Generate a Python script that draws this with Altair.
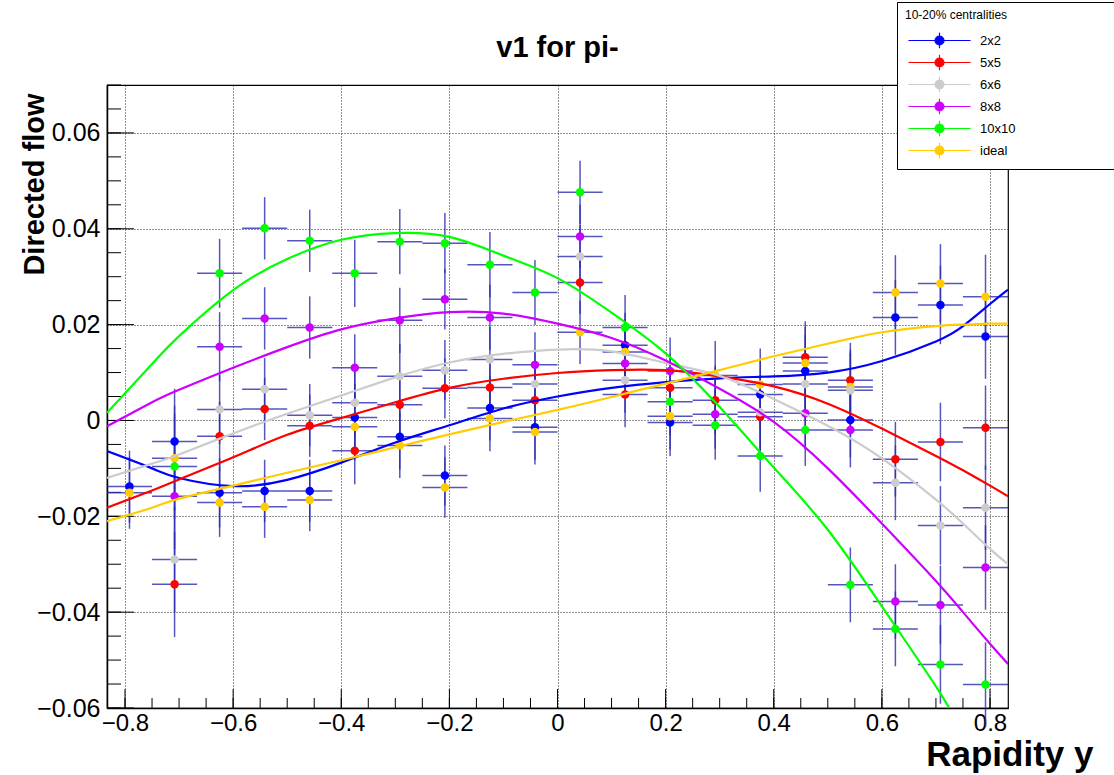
import altair as alt
import pandas as pd

# ---------------- data ----------------
chart_title = "v1 for pi-"
series_names = ["2x2", "5x5", "6x6", "8x8", "10x10", "ideal"]
series_colors = ["#0000ff", "#ff0000", "#cccccc", "#cc00ff", "#00ff00", "#ffcc00"]
draw_order = ["2x2", "5x5", "ideal", "6x6", "8x8", "10x10"]

rapidity_bins = [-0.7917, -0.7083, -0.6250, -0.5417, -0.4583, -0.3750, -0.2917, -0.2083, -0.1250, -0.0417,
                 0.0417, 0.1250, 0.2083, 0.2917, 0.3750, 0.4583, 0.5417, 0.6250, 0.7083, 0.7917]
bin_half_width = 0.0417

v1_2x2 = [-0.0138, -0.0044, -0.0151, -0.0147, -0.0147, 0.0006, -0.0034, -0.0115, 0.0026, -0.0014,
          None, 0.0157, -0.0004, None, 0.0054, 0.0103, 0.0001, 0.0215, 0.0241, 0.0175]
v1_5x5 = [None, -0.0342, -0.0033, 0.0024, -0.0011, -0.0063, 0.0033, 0.0067, 0.0069, 0.0042,
          0.0288, 0.0054, 0.0068, 0.0042, 0.0008, 0.0132, 0.0084, -0.0081, -0.0045, -0.0015]
v1_6x6 = [None, -0.0290, 0.0023, 0.0065, 0.0011, 0.0037, 0.0092, 0.0105, 0.0127, 0.0076,
          0.0342, 0.0084, None, None, 0.0017, 0.0076, 0.0063, -0.0130, -0.0219, -0.0182]
v1_8x8 = [None, -0.0158, 0.0154, 0.0213, 0.0194, 0.0110, 0.0209, 0.0253, 0.0215, 0.0116,
          0.0384, 0.0119, 0.0103, 0.0013, None, 0.0015, -0.0020, -0.0378, -0.0385, -0.0307]
v1_10x10 = [None, -0.0096, 0.0307, 0.0401, 0.0375, 0.0307, 0.0373, 0.0370, 0.0325, 0.0267,
            0.0476, 0.0194, 0.0039, -0.0010, -0.0074, -0.0020, -0.0343, -0.0435, -0.0509, -0.0551]
v1_ideal = [-0.0151, -0.0079, -0.0171, -0.0180, -0.0166, -0.0013, -0.0052, -0.0140, 0.0004, -0.0024,
            0.0184, 0.0143, 0.0009, 0.0094, 0.0075, 0.0120, 0.0070, 0.0267, 0.0286, 0.0258]
v1_errors = [0.0075, 0.0110, 0.0072, 0.0065, 0.0065, 0.0070, 0.0068, 0.0063, 0.0068, 0.0068,
             0.0066, 0.0068, 0.0070, 0.0072, 0.0075, 0.0075, 0.0078, 0.0078, 0.0082, 0.0088]

fit_x = [-0.8333, -0.75, -0.7, -0.6, -0.5, -0.4, -0.3, -0.2, -0.1, 0.0,
         0.1, 0.2, 0.3, 0.4, 0.5, 0.6, 0.7, 0.75, 0.8, 0.8333]
fit_2x2 = [-0.0064, -0.0100, -0.0120, -0.0137, -0.0124, -0.0088, -0.0046, -0.0010, 0.0025, 0.0050,
           0.0068, 0.0080, 0.0088, 0.0092, 0.0100, 0.0124, 0.0165, 0.0197, 0.0243, 0.0273]
fit_5x5 = [-0.0182, -0.0146, -0.0123, -0.0077, -0.0030, 0.0005, 0.0038, 0.0068, 0.0087, 0.0099,
           0.0105, 0.0105, 0.0092, 0.0071, 0.0035, -0.0017, -0.0074, -0.0104, -0.0136, -0.0158]
fit_6x6 = [-0.0120, -0.0090, -0.0071, -0.0027, 0.0014, 0.0052, 0.0090, 0.0121, 0.0139, 0.0148,
           0.0144, 0.0120, 0.0093, 0.0045, -0.0011, -0.0079, -0.0165, -0.0215, -0.0268, -0.0300]
fit_8x8 = [-0.0012, 0.0038, 0.0064, 0.0110, 0.0153, 0.0190, 0.0213, 0.0226, 0.0223, 0.0202,
           0.0172, 0.0125, 0.0066, -0.0003, -0.0100, -0.0215, -0.0335, -0.0400, -0.0466, -0.0508]
fit_10x10 = [0.0016, 0.0118, 0.0176, 0.0272, 0.0337, 0.0377, 0.0391, 0.0383, 0.0344, 0.0297,
             0.0225, 0.0140, 0.0028, -0.0098, -0.0228, -0.0388, -0.0555, -0.0650, -0.0745, -0.0810]
fit_ideal = [-0.0210, -0.0182, -0.0163, -0.0136, -0.0109, -0.0083, -0.0056, -0.0029, -0.0003, 0.0022,
             0.0049, 0.0077, 0.0105, 0.0134, 0.0160, 0.0184, 0.0197, 0.0200, 0.0202, 0.0202]

x_major_ticks = [-0.8, -0.6, -0.4, -0.2, 0.0, 0.2, 0.4, 0.6, 0.8]
x_minor_ticks = [round(-0.8 + 0.05 * k, 3) for k in range(33)]
y_major_ticks = [-0.06, -0.04, -0.02, 0.0, 0.02, 0.04, 0.06]
y_minor_ticks = [round(-0.06 + 0.005 * k, 3) for k in range(27)]

# ---------------- tables ----------------
values_by_series = {"2x2": v1_2x2, "5x5": v1_5x5, "6x6": v1_6x6,
                    "8x8": v1_8x8, "10x10": v1_10x10, "ideal": v1_ideal}
fits_by_series = {"2x2": fit_2x2, "5x5": fit_5x5, "6x6": fit_6x6,
                  "8x8": fit_8x8, "10x10": fit_10x10, "ideal": fit_ideal}

rows = []
for s in draw_order:
    for xv, yv, ev in zip(rapidity_bins, values_by_series[s], v1_errors):
        if yv is not None:
            rows.append({"series": s, "rapidity": xv, "v1": yv, "err": ev})
points = pd.DataFrame(rows)

fit_rows = []
for s in series_names:
    for xv, yv in zip(fit_x, fits_by_series[s]):
        fit_rows.append({"series": s, "fx": xv, "fy": yv})
fits = pd.DataFrame(fit_rows)

# ---------------- scales / axes ----------------
FONT = "Liberation Sans"
xscale = alt.Scale(domain=[-0.8333, 0.8333], nice=False, zero=False)
yscale = alt.Scale(domain=[-0.06, 0.07], nice=False, zero=False)

xaxis = alt.Axis(values=x_major_ticks, format="~g", title="Rapidity y", ticks=False, tickSize=0,
                 labelFont=FONT, labelFontSize=24, labelColor="black", labelPadding=3,
                 labelBaseline="top",
                 grid=True, gridDash=[1, 2], gridColor="#000000", gridOpacity=0.85, gridWidth=1,
                 domain=True, domainColor="black", domainWidth=1.5,
                 titleFont=FONT, titleFontSize=35, titleFontWeight="bold", titleColor="black",
                 titleX=986, titleY=57, titleAlign="right", titleBaseline="alphabetic", titleAngle=0)
yaxis = alt.Axis(values=y_major_ticks, format="~g", title="Directed flow", ticks=False, tickSize=0,
                 labelFont=FONT, labelFontSize=25, labelColor="black", labelPadding=7,
                 grid=True, gridDash=[1, 2], gridColor="#000000", gridOpacity=0.85, gridWidth=1,
                 domain=True, domainColor="black", domainWidth=1.5,
                 titleFont=FONT, titleFontSize=29, titleFontWeight="bold", titleColor="black",
                 titleX=-64, titleY=8, titleAlign="right", titleBaseline="alphabetic", titleAngle=270)

legend_symbol = ("M-6.9,0H6.9M0,-1.7V1.7"
                 "M1,0A1,1,0,1,1,-1,0A1,1,0,1,1,1,0Z")
legend = alt.Legend(title="10-20% centralities" + "\u00a0" * 30 + "\u200b", orient="none",
                    legendX=790, legendY=-83, padding=8,
                    symbolType=legend_symbol, symbolSize=81,
                    symbolStrokeColor="#2b2bb0", symbolStrokeWidth=1.2,
                    symbolOffset=28, labelOffset=34,
                    strokeColor="black", fillColor="white",
                    titleFont=FONT, titleFontSize=12, titleFontWeight="normal", titleColor="black",
                    titleLimit=400, titlePadding=12,
                    labelFont=FONT, labelFontSize=13, labelColor="black", rowPadding=1)
color = alt.Color("series:N", scale=alt.Scale(domain=series_names, range=series_colors),
                  legend=legend)

ERR = "#2b2bb0"
base = alt.Chart(points).transform_calculate(
    lo="datum.v1 - datum.err", hi="datum.v1 + datum.err",
    xlo=f"datum.rapidity - {bin_half_width}", xhi=f"datum.rapidity + {bin_half_width}")

vbars = base.mark_rule(color=ERR, strokeWidth=1.5, opacity=0.8).encode(
    x=alt.X("rapidity:Q", scale=xscale, axis=xaxis),
    y=alt.Y("lo:Q", scale=yscale, axis=yaxis),
    y2="hi:Q")
hbars = base.mark_rule(color=ERR, strokeWidth=1.5, opacity=0.8).encode(
    x=alt.X("xlo:Q", scale=xscale, axis=xaxis),
    x2="xhi:Q",
    y=alt.Y("v1:Q", scale=yscale, axis=yaxis))
dots = base.mark_circle(size=72, opacity=1).encode(
    x=alt.X("rapidity:Q", scale=xscale, axis=xaxis),
    y=alt.Y("v1:Q", scale=yscale, axis=yaxis),
    color=color)
curves = alt.Chart(fits).mark_line(strokeWidth=2.2, clip=True, interpolate="natural").encode(
    x=alt.X("fx:Q", scale=xscale, axis=xaxis),
    y=alt.Y("fy:Q", scale=yscale, axis=yaxis),
    color=color)

ytick_major = alt.Chart(pd.DataFrame({"t": y_major_ticks})).mark_rule(color="black", strokeWidth=1).encode(
    y=alt.Y("t:Q", scale=yscale, axis=yaxis), x=alt.value(0), x2=alt.value(27))
ytick_minor = alt.Chart(pd.DataFrame({"t": y_minor_ticks})).mark_rule(color="black", strokeWidth=1).encode(
    y=alt.Y("t:Q", scale=yscale, axis=yaxis), x=alt.value(0), x2=alt.value(14))
xtick_major = alt.Chart(pd.DataFrame({"t": x_major_ticks})).mark_rule(color="black", strokeWidth=1).encode(
    x=alt.X("t:Q", scale=xscale, axis=xaxis), y=alt.value(623), y2=alt.value(604))
xtick_minor = alt.Chart(pd.DataFrame({"t": x_minor_ticks})).mark_rule(color="black", strokeWidth=1).encode(
    x=alt.X("t:Q", scale=xscale, axis=xaxis), y=alt.value(623), y2=alt.value(613))

title_mark = alt.Chart(pd.DataFrame({"t": [chart_title]})).mark_text(
    font=FONT, fontSize=29, fontWeight="bold", color="black", align="center", baseline="alphabetic"
).encode(text="t:N", x=alt.value(450.5), y=alt.value(-28))

chart = alt.layer(
    ytick_minor, ytick_major, xtick_minor, xtick_major,
    vbars, hbars, dots, curves, title_mark
).properties(
    width=901, height=623,
    autosize=alt.AutoSizeParams(type="none"),
    padding={"left": 107, "top": 85, "right": 106, "bottom": 67},
    background="white",
).configure_view(stroke="black", strokeWidth=1.2)

chart.save("out.html", embed_options={"renderer": "svg", "actions": False})
